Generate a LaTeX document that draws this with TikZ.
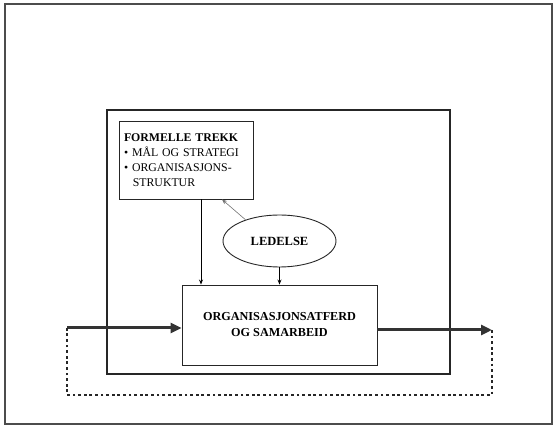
\documentclass[tikz,border=0pt]{standalone}
\usepackage{fontspec}
\setmainfont{Liberation Serif}
\usetikzlibrary{shapes.geometric,arrows.meta}

\begin{document}
\begin{tikzpicture}[thick, x=1pt, y=-1pt,
    box/.style={draw=black!85, line width=0.9pt},
    flow/.style={line width=3pt, draw=black!80, -{Triangle[length=11pt,width=10pt]}},
    feedback/.style={line width=2.8pt, draw=black!85, dash pattern=on 2.8pt off 2.8pt},
    link/.style={line width=0.8pt, -{Stealth[length=5pt,width=4pt]}}]
          \useasboundingbox (0,0) rectangle (555,427);

          % frames
          \draw[line width=1.8pt, black!70] (5,4) rectangle (552,424);
          \draw[line width=1.4pt, black!85] (107,110) rectangle (450,374);

          \node[box, minimum width=134pt, minimum height=78pt, text width=124pt,
                inner xsep=5pt, align=left, font=\fontsize{11.8}{15}\selectfont]
                (trekk) at (186,160)
                {\textbf{FORMELLE TREKK}\\
                 \textbullet\ MÅL OG STRATEGI\\
                 \textbullet\ ORGANISASJONS-\\
                 \hspace*{0.75em}STRUKTUR};

          \node[ellipse, box, minimum width=113pt, minimum height=52pt,
                font=\bfseries\fontsize{12.5}{14}\selectfont] (ledelse) at (279.5,241) {LEDELSE};

          \node[box, minimum width=195pt, minimum height=80pt, align=center,
                font=\bfseries\fontsize{12.2}{16}\selectfont] (atferd) at (279.5,325)
                {ORGANISASJONSATFERD\\OG SAMARBEID};

          \coordinate (in) at (67,328);
          \coordinate (out) at (492,330);
          \coordinate (loopR) at (492,395);
          \coordinate (loopL) at (67,395);

          \draw[link] ([xshift=15pt]trekk.south) -- ([xshift=15pt]trekk.south |- atferd.north);
          \draw[link] (ledelse.south) -- (atferd.north);
          \draw[link, black!55, line width=0.6pt] (ledelse.148) -- ([xshift=36pt]trekk.south);% faint arrow

          \draw[flow] (in) -- (in -| atferd.west);
          \draw[flow] (atferd.east |- out) -- (out);
          \draw[feedback] (out) -- (loopR) -- (loopL) -- (in);

\end{tikzpicture}
\end{document}
